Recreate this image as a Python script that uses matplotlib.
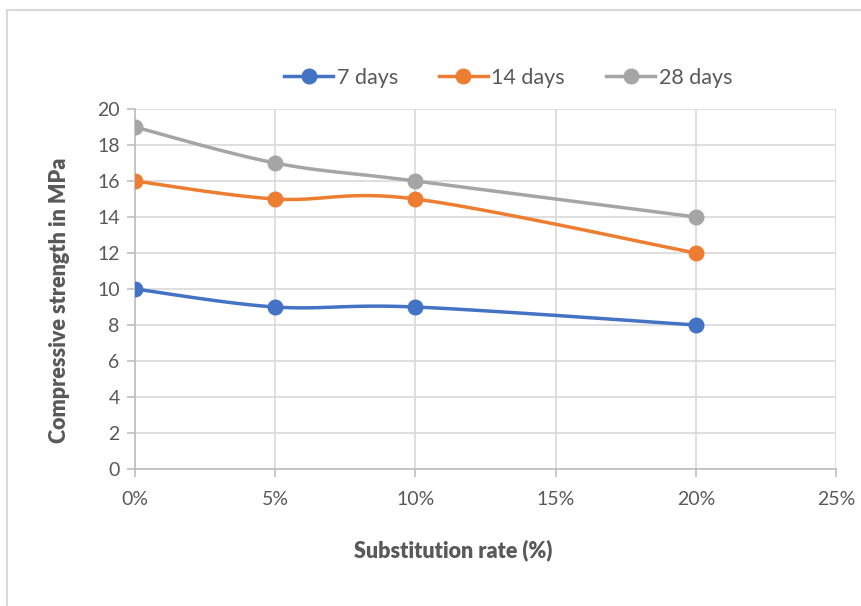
import numpy as np
import matplotlib
matplotlib.use('Agg')
import matplotlib.pyplot as plt
from matplotlib.patches import Rectangle
from matplotlib.lines import Line2D

plt.rcParams['font.family'] = ['Lato', 'DejaVu Sans']

# 置換率 (%) と材齢ごとの圧縮強度 (MPa)
rate = [0, 5, 10, 20]
days7 = [10, 9, 9, 8]
days14 = [16, 15, 15, 12]
days28 = [19, 17, 16, 14]
series_names = ['7 days', '14 days', '28 days']
series_colors = ['#4472C4', '#ED7D31', '#A5A5A5']


def smooth(x, y, n=40):
    # Excel風の平滑線（隣接点から制御点を決める3次ベジェ）
    p = np.column_stack([x, y]).astype(float)
    pts = [p[0]]
    for i in range(len(p) - 1):
        p0 = p[i - 1] if i > 0 else p[i]
        p3 = p[i + 2] if i + 2 < len(p) else p[i + 1]
        c1 = p[i] + (p[i + 1] - p0) / 6
        c2 = p[i + 1] - (p3 - p[i]) / 6
        t = np.linspace(0, 1, n)[1:, None]
        seg = ((1 - t) ** 3) * p[i] + 3 * ((1 - t) ** 2) * t * c1 \
            + 3 * (1 - t) * t ** 2 * c2 + t ** 3 * p[i + 1]
        pts.extend(seg)
    pts = np.array(pts)
    return pts[:, 0], pts[:, 1]


fig = plt.figure(figsize=(8.62, 6.06), dpi=100)
ax = fig.add_axes([135 / 862, 1 - 469 / 606, 701 / 862, 360 / 606])

# グラフ領域の枠
fig.patches.append(Rectangle((7 / 862, -0.1), 1.1, 1 - 10 / 606 + 0.1,
                             transform=fig.transFigure, fill=False,
                             edgecolor='#d9d9d9', linewidth=1.5))

for vals, name, col in zip([days7, days14, days28], series_names, series_colors):
    sx, sy = smooth(rate, vals)
    ax.plot(sx, sy, color=col, lw=2.5, solid_capstyle='round', zorder=3)
    ax.plot(rate, vals, 'o', color=col, ms=10.5, zorder=4)

ax.set_xlim(0, 25)
ax.set_ylim(0, 20)
ax.set_xticks(range(0, 26, 5))
ax.set_xticklabels([f'{v}%' for v in range(0, 26, 5)])
ax.set_yticks(range(0, 21, 2))
ax.grid(True, color='#d9d9d9', lw=1.2)
ax.set_axisbelow(True)
for s in ['top', 'right']:
    ax.spines[s].set_visible(False)
for s in ['left', 'bottom']:
    ax.spines[s].set_color('#bfbfbf')
    ax.spines[s].set_linewidth(1.2)
ax.tick_params(axis='both', colors='#bfbfbf', labelcolor='#595959',
               labelsize=14, length=6, width=1.2)
ax.tick_params(axis='x', pad=10)
ax.tick_params(axis='y', pad=5)

fig.text(453 / 862, 1 - 550 / 606, 'Substitution rate (%)', ha='center',
         va='center', fontsize=15.5, fontweight='heavy', color='#595959')
fig.text(60 / 862, 1 - 300 / 606, 'Compressive strength in MPa', ha='center',
         va='center', rotation=90, fontsize=15.5, fontweight='heavy',
         color='#595959')

handles = [Line2D([], [], color=c, lw=2.5, marker='o', ms=10.5)
           for c in series_colors]
fig.legend(handles, series_names, loc='center', ncol=3,
           bbox_to_anchor=(508 / 862, 1 - 78 / 606), frameon=False,
           fontsize=15.5, labelcolor='#595959', handlelength=2.3,
           handletextpad=0.15, columnspacing=1.9)

fig.savefig('out.png', dpi=100)
